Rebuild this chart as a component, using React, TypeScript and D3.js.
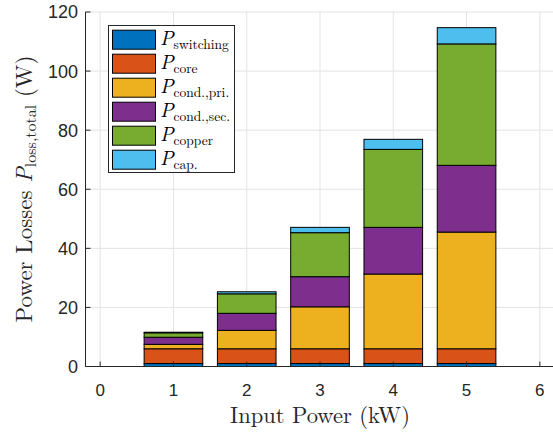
import * as d3 from 'd3'

const categories = [1, 2, 3, 4, 5]
const xTicks = [0, 1, 2, 3, 4, 5, 6]
const yTicks = [0, 20, 40, 60, 80, 100, 120]

const switching = [1.0, 1.0, 1.0, 1.0, 1.0]
const core = [5.0, 5.0, 5.0, 5.0, 5.0]
const condPri = [1.5, 6.25, 14.2, 25.3, 39.5]
const condSec = [2.4, 5.75, 10.2, 15.8, 22.6]
const copper = [1.5, 6.6, 14.9, 26.4, 41.1]
const cap = [0.2, 0.7, 1.8, 3.4, 5.5]

const seriesNames = ['switching', 'core', 'cond.,pri.', 'cond.,sec.', 'copper', 'cap.']
const seriesValues = [switching, core, condPri, condSec, copper, cap]
const colors = ['#0072BD', '#D95319', '#EDB120', '#7E2F8E', '#77AC30', '#4DBEEE']

const W = 553
const H = 433
const serif = '"Latin Modern Roman", "CMU Serif", "DejaVu Serif", serif'
const sans = '"Liberation Sans", Arial, sans-serif'

export default function App() {
  const x = d3.scaleLinear().domain([-0.2, 6.2]).range([85.5, 554.5])
  const y = d3.scaleLinear().domain([0, 120]).range([366.5, 12])
  const barW = x(0.8) - x(0)

  const rows = categories.map((c, i) => {
    const r: Record<string, number> = { x: c }
    seriesNames.forEach((n, j) => (r[n] = seriesValues[j][i]))
    return r
  })
  const stacked = d3.stack<Record<string, number>>().keys(seriesNames)(rows)

  const axisColor = '#262626'
  const gridColor = '#e3e3e3'

  return (
    <svg width={W} height={H} style={{ position: 'absolute', left: 0, top: 0, background: '#fff' }}>
      {/* grid */}
      {xTicks.map((t) => (
        <line key={'gx' + t} x1={x(t)} x2={x(t)} y1={y(0)} y2={y(120)} stroke={gridColor} strokeWidth={1} />
      ))}
      {yTicks.map((t) => (
        <line key={'gy' + t} x1={x(-0.2)} x2={W} y1={y(t)} y2={y(t)} stroke={gridColor} strokeWidth={1} />
      ))}

      {/* bars */}
      {stacked.map((s, j) => (
        <g key={s.key} fill={colors[j]}>
          {s.map((d, i) => (
            <rect
              key={i}
              x={x(categories[i]) - barW / 2}
              y={y(d[1])}
              width={barW}
              height={y(d[0]) - y(d[1])}
              stroke="#000"
              strokeWidth={1}
            />
          ))}
        </g>
      ))}

      {/* axes */}
      <line x1={x(-0.2)} x2={x(-0.2)} y1={y(0)} y2={y(120)} stroke={axisColor} strokeWidth={1} />
      <line x1={x(-0.2)} x2={W} y1={y(0)} y2={y(0)} stroke={axisColor} strokeWidth={1.2} />
      {yTicks.map((t) => (
        <g key={'yt' + t}>
          <line x1={x(-0.2)} x2={x(-0.2) + 5} y1={y(t)} y2={y(t)} stroke={axisColor} />
          <text x={78} y={y(t)} dy="0.36em" textAnchor="end" fontFamily={sans} fontSize={18} fill={axisColor}>
            {t}
          </text>
        </g>
      ))}
      {xTicks.map((t) => (
        <g key={'xt' + t}>
          <line x1={x(t)} x2={x(t)} y1={y(0)} y2={y(0) - 5} stroke={axisColor} />
          <text x={x(t)} y={396} textAnchor="middle" fontFamily={sans} fontSize={17} fill={axisColor}>
            {t}
          </text>
        </g>
      ))}

      {/* axis labels */}
      <text x={320} y={423} textAnchor="middle" fontFamily={serif} fontSize={22.5} fill={axisColor}>
        Input Power (kW)
      </text>
      <text
        transform="translate(32,189) rotate(-90)"
        textAnchor="middle"
        fontFamily={serif}
        fontSize={23}
        fill={axisColor}
      >
        Power Losses <tspan fontStyle="italic">P</tspan>
        <tspan fontSize={16} dy={4}>loss,total</tspan>
        <tspan dy={-4}> (W)</tspan>
      </text>

      {/* legend */}
      <rect x={108.5} y={25.5} width={126} height={147} fill="#fff" stroke={axisColor} strokeWidth={1} />
      {seriesNames.map((n, j) => {
        const cy = 39.7 + j * 24
        return (
          <g key={'lg' + n}>
            <rect x={112.5} y={cy - 9.5} width={43} height={19} fill={colors[j]} stroke="#000" strokeWidth={1} />
            <text x={160} y={cy + 5} fontFamily={serif} fontSize={20} fill="#000">
              <tspan fontStyle="italic">P</tspan>
              <tspan fontSize={13.5} dy={4}>{n}</tspan>
            </text>
          </g>
        )
      })}
    </svg>
  )
}
